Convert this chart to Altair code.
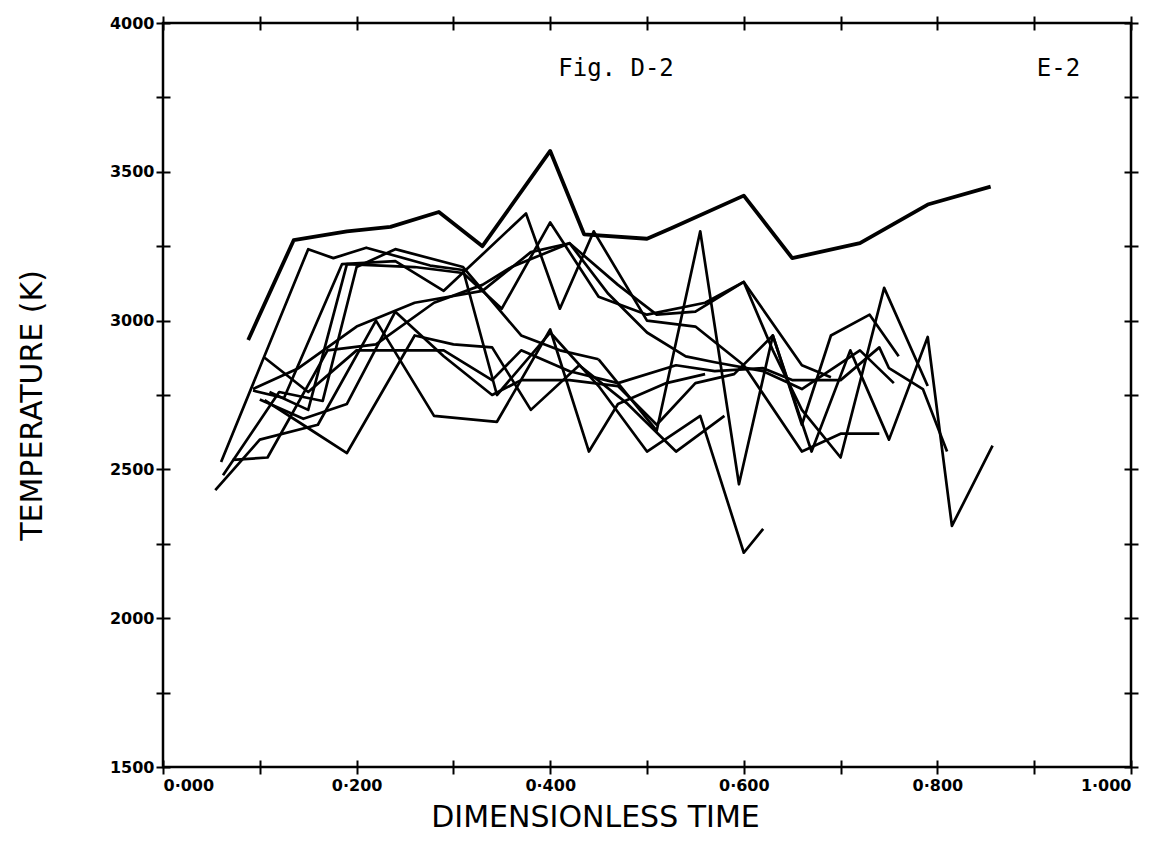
import altair as alt
import pandas as pd

# ---- data (dimensionless time, temperature K) ----
run_01_t = [0.088, 0.135, 0.19, 0.235, 0.285, 0.33, 0.40, 0.435, 0.50, 0.525, 0.60, 0.65, 0.72, 0.79, 0.855]
run_01_T = [2935, 3270, 3300, 3315, 3365, 3250, 3570, 3290, 3275, 3310, 3420, 3210, 3260, 3390, 3450]

run_02_t = [0.06, 0.15, 0.176, 0.21, 0.276, 0.31, 0.345, 0.40, 0.45, 0.50, 0.555, 0.60, 0.62]
run_02_T = [2525, 3240, 3210, 3245, 3185, 3170, 2750, 2960, 2780, 2560, 2680, 2220, 2300]

run_03_t = [0.093, 0.125, 0.185, 0.24, 0.29, 0.375, 0.41, 0.445, 0.50, 0.55, 0.60, 0.66, 0.70, 0.74]
run_03_T = [2765, 2740, 3190, 3200, 3100, 3360, 3040, 3300, 3000, 2980, 2850, 2560, 2620, 2620]

run_04_t = [0.054, 0.10, 0.16, 0.22, 0.28, 0.345, 0.40, 0.44, 0.47, 0.52, 0.56]
run_04_T = [2430, 2600, 2650, 3000, 2680, 2660, 2970, 2560, 2720, 2790, 2820]

run_05_t = [0.105, 0.15, 0.20, 0.29, 0.34, 0.37, 0.42, 0.47, 0.53, 0.57, 0.62, 0.65, 0.70, 0.74, 0.75, 0.785, 0.81]
run_05_T = [2875, 2760, 2900, 2900, 2800, 2900, 2830, 2790, 2850, 2830, 2840, 2800, 2800, 2910, 2840, 2770, 2560]

run_06_t = [0.072, 0.108, 0.17, 0.22, 0.28, 0.33, 0.36, 0.42, 0.47, 0.51, 0.55, 0.60, 0.63, 0.66, 0.70, 0.745, 0.79]
run_06_T = [2532, 2540, 2900, 2920, 3060, 3120, 3180, 3260, 3120, 3020, 3030, 3130, 2900, 2700, 2540, 3110, 2780]

run_07_t = [0.093, 0.14, 0.20, 0.26, 0.33, 0.38, 0.42, 0.46, 0.50, 0.54, 0.57, 0.62, 0.66, 0.72, 0.755]
run_07_T = [2770, 2840, 2980, 3060, 3100, 3230, 3260, 3090, 2960, 2880, 2860, 2830, 2770, 2900, 2790]

run_08_t = [0.10, 0.145, 0.19, 0.24, 0.29, 0.34, 0.37, 0.42, 0.47, 0.51, 0.55, 0.59, 0.63, 0.66, 0.69, 0.73, 0.76]
run_08_T = [2735, 2670, 2720, 3030, 2880, 2750, 2800, 2800, 2780, 2650, 2790, 2820, 2950, 2650, 2950, 3020, 2880]

run_09_t = [0.45, 0.51, 0.555, 0.595, 0.63, 0.67, 0.71, 0.75, 0.79, 0.815, 0.857]
run_09_T = [2870, 2630, 3300, 2450, 2950, 2560, 2900, 2600, 2945, 2310, 2580]

run_10_t = [0.062, 0.12, 0.165, 0.20, 0.24, 0.31, 0.37, 0.41, 0.45]
run_10_T = [2480, 2760, 2730, 3180, 3240, 3180, 2950, 2900, 2870]

run_11_t = [0.11, 0.15, 0.19, 0.26, 0.31, 0.35, 0.40, 0.45, 0.50, 0.56, 0.60, 0.66, 0.69]
run_11_T = [2760, 2700, 3190, 3180, 3160, 3040, 3330, 3080, 3020, 3060, 3130, 2850, 2810]

run_12_t = [0.105, 0.147, 0.19, 0.26, 0.30, 0.34, 0.38, 0.43, 0.48, 0.53, 0.58]
run_12_T = [2733, 2645, 2555, 2950, 2920, 2910, 2700, 2850, 2720, 2560, 2680]

runs = [
    ("01", run_01_t, run_01_T), ("02", run_02_t, run_02_T), ("03", run_03_t, run_03_T),
    ("04", run_04_t, run_04_T), ("05", run_05_t, run_05_T), ("06", run_06_t, run_06_T),
    ("07", run_07_t, run_07_T), ("08", run_08_t, run_08_T), ("09", run_09_t, run_09_T),
    ("10", run_10_t, run_10_T), ("11", run_11_t, run_11_T), ("12", run_12_t, run_12_T),
]

x_ticks = [0.0, 0.1, 0.2, 0.3, 0.4, 0.5, 0.6, 0.7, 0.8, 0.9, 1.0]
y_ticks = [1500, 1750, 2000, 2250, 2500, 2750, 3000, 3250, 3500, 3750, 4000]

note_text = ["Fig. D-2", "E-2"]
note_t = [0.468, 0.925]
note_T = [3845, 3845]

rows = []
for name, ts, Ts in runs:
    for i, (t, T) in enumerate(zip(ts, Ts)):
        rows.append({"run": name, "order": i, "t": t, "T": T})
df = pd.DataFrame(rows)
notes = pd.DataFrame({"label": note_text, "t": note_t, "T": note_T})

xs = alt.Scale(domain=[0, 1], nice=False, zero=False)
ys = alt.Scale(domain=[1500, 4000], nice=False, zero=False)

LBL_FONT = "DejaVu Sans"
x_lab = "(round(datum.value*10) % 2 == 0) ? replace(format(datum.value, '.3f'), '.', '·') : ''"
y_lab = "(datum.value % 500 == 0) ? format(datum.value, 'd') : ''"


def tick_axis(orient, offset, labels=False, title=None, vals=None, expr=None, extra=None):
    kw = dict(orient=orient, values=vals, ticks=True, tickSize=7, tickWidth=2,
              tickColor="black", domain=False, grid=False, offset=offset, labels=labels)
    if labels:
        kw.update(labelExpr=expr, labelFont=LBL_FONT, labelFontSize=16,
                  labelFontWeight="bold", labelColor="black")
    kw["title"] = title if title is not None else None
    if extra:
        kw.update(extra)
    return alt.Axis(**kw)


base = alt.Chart(df)

thin = base.transform_filter(alt.datum.run != "01").mark_line(
    color="black", strokeWidth=2.7, strokeJoin="round"
).encode(
    x=alt.X("t:Q", scale=xs,
            axis=tick_axis("bottom", 0, True, "DIMENSIONLESS TIME", x_ticks, x_lab,
                           dict(labelPadding=3, titleFont="DejaVu Sans", titleFontSize=30,
                                titleFontWeight="normal", titleColor="black",
                                titleX=432, titleY=50, titleAlign="center",
                                titleBaseline="middle"))),
    y=alt.Y("T:Q", scale=ys,
            axis=tick_axis("left", 0, True, "TEMPERATURE (K)", y_ticks, y_lab,
                           dict(labelPadding=2, titleFont="DejaVu Sans", titleFontSize=30,
                                titleFontWeight="normal", titleColor="black",
                                titleX=-131, titleY=382, titleAlign="center",
                                titleBaseline="middle"))),
    detail="run:N",
    order="order:Q",
)

bold = base.transform_filter(alt.datum.run == "01").mark_line(
    color="black", strokeWidth=3.8, strokeJoin="round"
).encode(
    x=alt.X("t:Q", scale=xs, axis=None),
    y=alt.Y("T:Q", scale=ys, axis=None),
    order="order:Q",
)


def frame_layer(xo, yo, xoff, yoff):
    return alt.Chart(df).mark_point(opacity=0).encode(
        x=alt.X("t:Q", scale=xs, axis=tick_axis(xo, xoff, vals=x_ticks)),
        y=alt.Y("T:Q", scale=ys, axis=tick_axis(yo, yoff, vals=y_ticks)),
    )


inner_bl = frame_layer("bottom", "left", -7, -7)
outer_tr = frame_layer("top", "right", 0, 0)
inner_tr = frame_layer("top", "right", -7, -7)

texts = alt.Chart(notes).mark_text(font="DejaVu Sans Mono", fontSize=24, color="black",
                                   align="center", baseline="middle").encode(
    x=alt.X("t:Q", scale=xs, axis=None),
    y=alt.Y("T:Q", scale=ys, axis=None),
    text="label:N",
)

chart = alt.layer(thin, bold, inner_bl, outer_tr, inner_tr, texts).resolve_axis(
    x="independent", y="independent"
).properties(
    width=968, height=744,
    padding={"left": 163, "top": 23, "right": 30, "bottom": 92},
    autosize=alt.AutoSizeParams(type="none"),
    background="white",
).configure_view(stroke="black", strokeWidth=2.5)

chart.save("out.html", embed_options={"renderer": "svg", "actions": False})
